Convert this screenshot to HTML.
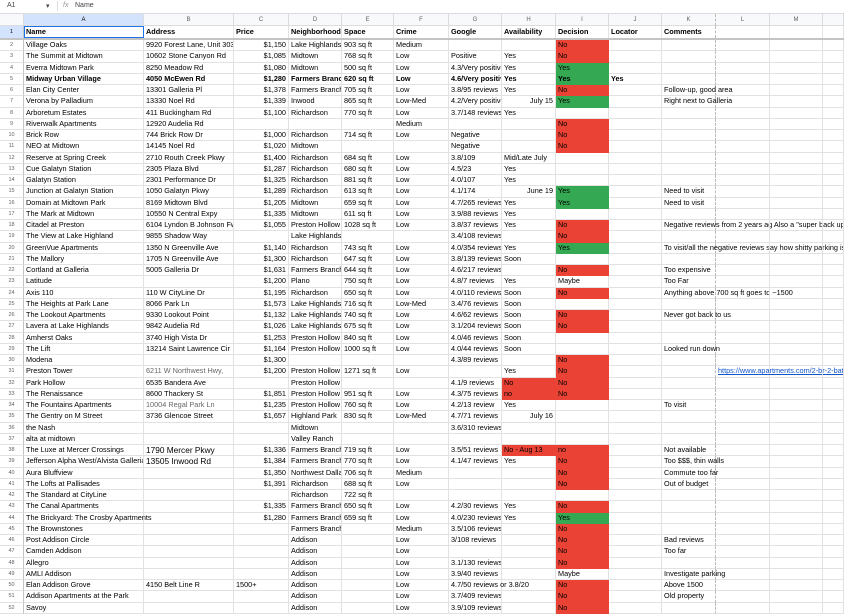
<!DOCTYPE html>
<html><head><meta charset="utf-8">
<style>
*{box-sizing:border-box;margin:0;padding:0}
body{width:844px;height:609px;overflow:hidden;background:#fff;font-family:"Liberation Sans",Arial,sans-serif;color:#000;position:relative}
.top{position:absolute;left:0;top:0;width:844px;height:13px;font-size:7px;color:#444}
.top span{position:absolute;top:2px}
.ch{position:absolute;top:13px;left:0;display:flex;height:13px;width:844px;background:#f8f9fa;border-top:1px solid #dadce0}
.ch div{border-right:1px solid #dadce0;border-bottom:1px solid #dadce0;text-align:center;font-size:6px;color:#5f6368;line-height:12px}
.ch div.sel{background:#d3e3fd;color:#000}
.g{position:absolute;top:26px;left:0;width:844px}
.r{display:flex;height:11.25px}
.r.h1{height:14px;border-bottom:2px solid #c4c4c4}
.r>div{border-right:1px solid #e2e2e2;border-bottom:1px solid #e2e2e2;padding:0 2px;font-size:7.3px;line-height:10.5px;white-space:nowrap;overflow:hidden}
.r.h1>div{line-height:12px;font-weight:bold;border-bottom:none}
.r>div:first-child{text-align:center;font-size:5.5px;color:#5f6368;background:#fff;border-right:1px solid #c4c4c4;font-weight:normal}
.r.h1>div:first-child{background:#d3e3fd;color:#000}
.w0{width:24px;flex:none}
.r>div:nth-child(1),.ch>div:nth-child(1){width:24px;flex:none}
.r>div:nth-child(2),.ch>div:nth-child(2){width:120px;flex:none}
.r>div:nth-child(3),.ch>div:nth-child(3){width:90px;flex:none}
.r>div:nth-child(4),.ch>div:nth-child(4){width:55px;flex:none;text-align:right}
.ch>div:nth-child(4){text-align:center}
.r>div:nth-child(5),.ch>div:nth-child(5){width:53px;flex:none}
.r>div:nth-child(6),.ch>div:nth-child(6){width:52px;flex:none}
.r>div:nth-child(7),.ch>div:nth-child(7){width:55px;flex:none}
.r>div:nth-child(8),.ch>div:nth-child(8){width:53px;flex:none}
.r>div:nth-child(9),.ch>div:nth-child(9){width:54px;flex:none}
.r>div:nth-child(10),.ch>div:nth-child(10){width:53px;flex:none}
.r>div:nth-child(11),.ch>div:nth-child(11){width:53px;flex:none}
.r>div:nth-child(12),.ch>div:nth-child(12){width:54px;flex:none;border-right:1px dashed #bbb}
.r>div:nth-child(13),.ch>div:nth-child(13){width:54px;flex:none}
.r>div:nth-child(14),.ch>div:nth-child(14){width:53px;flex:none}
.r>div:nth-child(15),.ch>div:nth-child(15){width:21px;flex:none}
.r>div.o{overflow:visible}
.r>div.R{background:#ea4335;border-color:#ea4335}
.r>div.G{background:#34a853;border-color:#34a853}
.r>div.ra{text-align:right}
.r>div.la{text-align:left}
.b>div{font-weight:bold}
.gr{color:#666}
.big{font-size:8.3px!important}
.lnk{color:#1155cc;text-decoration:underline}
</style></head><body>
<div class="top"><span style="left:7px">A1</span><span style="left:46px">▾</span><span style="left:57px;top:1px;height:10px;border-left:1px solid #ddd"></span><span style="left:63px;color:#999;font-style:italic">fx</span><span style="left:75px">Name</span></div>
<div class="ch"><div></div><div class="sel">A</div><div>B</div><div>C</div><div>D</div><div>E</div><div>F</div><div>G</div><div>H</div><div>I</div><div>J</div><div>K</div><div>L</div><div>M</div><div></div></div>
<div class="g">
<div class="r h1"><div>1</div><div style="outline:1.5px solid #1a73e8;outline-offset:-1.5px">Name</div><div>Address</div><div class="la">Price</div><div>Neighborhood</div><div>Space</div><div>Crime</div><div>Google</div><div>Availability</div><div>Decision</div><div>Locator</div><div>Comments</div><div></div><div></div><div></div></div>
<div class="r"><div>2</div><div>Village Oaks</div><div>9920 Forest Lane, Unit 303</div><div>$1,150</div><div>Lake Highlands</div><div>903 sq ft</div><div>Medium</div><div></div><div></div><div class="R">No</div><div></div><div></div><div></div><div></div><div></div></div>
<div class="r"><div>3</div><div>The Summit at Midtown</div><div>10602 Stone Canyon Rd</div><div>$1,085</div><div>Midtown</div><div>768 sq ft</div><div>Low</div><div>Positive</div><div>Yes</div><div class="R">No</div><div></div><div></div><div></div><div></div><div></div></div>
<div class="r"><div>4</div><div>Everra Midtown Park</div><div>8250 Meadow Rd</div><div>$1,080</div><div>Midtown</div><div>500 sq ft</div><div>Low</div><div>4.3/Very positive</div><div>Yes</div><div class="G">Yes</div><div></div><div></div><div></div><div></div><div></div></div>
<div class="r b"><div>5</div><div>Midway Urban Village</div><div>4050 McEwen Rd</div><div>$1,280</div><div>Farmers Branch</div><div>620 sq ft</div><div>Low</div><div>4.6/Very positive</div><div>Yes</div><div class="G">Yes</div><div>Yes</div><div></div><div></div><div></div><div></div></div>
<div class="r"><div>6</div><div>Elan City Center</div><div>13301 Galleria Pl</div><div>$1,378</div><div>Farmers Branch</div><div>705 sq ft</div><div>Low</div><div>3.8/95 reviews</div><div>Yes</div><div class="R">No</div><div></div><div class="o">Follow-up, good area</div><div></div><div></div><div></div></div>
<div class="r"><div>7</div><div>Verona by Palladium</div><div>13330 Noel Rd</div><div>$1,339</div><div>Inwood</div><div>865 sq ft</div><div>Low-Med</div><div>4.2/Very positive</div><div class="ra">July 15</div><div class="G">Yes</div><div></div><div class="o">Right next to Galleria</div><div></div><div></div><div></div></div>
<div class="r"><div>8</div><div>Arboretum Estates</div><div>411 Buckingham Rd</div><div>$1,100</div><div>Richardson</div><div>770 sq ft</div><div>Low</div><div>3.7/148 reviews</div><div>Yes</div><div></div><div></div><div></div><div></div><div></div><div></div></div>
<div class="r"><div>9</div><div>Riverwalk Apartments</div><div>12920 Audelia Rd</div><div></div><div></div><div></div><div>Medium</div><div></div><div></div><div class="R">No</div><div></div><div></div><div></div><div></div><div></div></div>
<div class="r"><div>10</div><div>Brick Row</div><div>744 Brick Row Dr</div><div>$1,000</div><div>Richardson</div><div>714 sq ft</div><div>Low</div><div>Negative</div><div></div><div class="R">No</div><div></div><div></div><div></div><div></div><div></div></div>
<div class="r"><div>11</div><div>NEO at Midtown</div><div>14145 Noel Rd</div><div>$1,020</div><div>Midtown</div><div></div><div></div><div>Negative</div><div></div><div class="R">No</div><div></div><div></div><div></div><div></div><div></div></div>
<div class="r"><div>12</div><div>Reserve at Spring Creek</div><div>2710 Routh Creek Pkwy</div><div>$1,400</div><div>Richardson</div><div>684 sq ft</div><div>Low</div><div>3.8/109</div><div>Mid/Late July</div><div></div><div></div><div></div><div></div><div></div><div></div></div>
<div class="r"><div>13</div><div>Cue Galatyn Station</div><div>2305 Plaza Blvd</div><div>$1,287</div><div>Richardson</div><div>680 sq ft</div><div>Low</div><div>4.5/23</div><div>Yes</div><div></div><div></div><div></div><div></div><div></div><div></div></div>
<div class="r"><div>14</div><div>Galatyn Station</div><div>2301 Performance Dr</div><div>$1,325</div><div>Richardson</div><div>881 sq ft</div><div>Low</div><div>4.0/107</div><div>Yes</div><div></div><div></div><div></div><div></div><div></div><div></div></div>
<div class="r"><div>15</div><div>Junction at Galatyn Station</div><div>1050 Galatyn Pkwy</div><div>$1,289</div><div>Richardson</div><div>613 sq ft</div><div>Low</div><div>4.1/174</div><div class="ra">June 19</div><div class="G">Yes</div><div></div><div class="o">Need to visit</div><div></div><div></div><div></div></div>
<div class="r"><div>16</div><div>Domain at Midtown Park</div><div>8169 Midtown Blvd</div><div>$1,205</div><div>Midtown</div><div>659 sq ft</div><div>Low</div><div>4.7/265 reviews</div><div>Yes</div><div class="G">Yes</div><div></div><div class="o">Need to visit</div><div></div><div></div><div></div></div>
<div class="r"><div>17</div><div>The Mark at Midtown</div><div>10550 N Central Expy</div><div>$1,335</div><div>Midtown</div><div>611 sq ft</div><div>Low</div><div>3.9/88 reviews</div><div>Yes</div><div></div><div></div><div></div><div></div><div></div><div></div></div>
<div class="r"><div>18</div><div>Citadel at Preston</div><div>6104 Lyndon B Johnson Fwy</div><div>$1,055</div><div>Preston Hollow</div><div>1028 sq ft</div><div>Low</div><div>3.8/37 reviews</div><div>Yes</div><div class="R">No</div><div></div><div class="o">Negative reviews from 2 years ag Also a "super back up"</div><div></div><div></div><div></div></div>
<div class="r"><div>19</div><div>The View at Lake Highland</div><div>9855 Shadow Way</div><div></div><div>Lake Highlands</div><div></div><div></div><div>3.4/108 reviews</div><div></div><div class="R">No</div><div></div><div></div><div></div><div></div><div></div></div>
<div class="r"><div>20</div><div>GreenVue Apartments</div><div>1350 N Greenville Ave</div><div>$1,140</div><div>Richardson</div><div>743 sq ft</div><div>Low</div><div>4.0/354 reviews</div><div>Yes</div><div class="G">Yes</div><div></div><div class="o">To visit/all the negative reviews say how shitty parking is a</div><div></div><div></div><div></div></div>
<div class="r"><div>21</div><div>The Mallory</div><div>1705 N Greenville Ave</div><div>$1,300</div><div>Richardson</div><div>647 sq ft</div><div>Low</div><div>3.8/139 reviews</div><div>Soon</div><div></div><div></div><div></div><div></div><div></div><div></div></div>
<div class="r"><div>22</div><div>Cortland at Galleria</div><div>5005 Galleria Dr</div><div>$1,631</div><div>Farmers Branch</div><div>644 sq ft</div><div>Low</div><div>4.6/217 reviews</div><div></div><div class="R">No</div><div></div><div class="o">Too expensive</div><div></div><div></div><div></div></div>
<div class="r"><div>23</div><div>Latitude</div><div></div><div>$1,200</div><div>Plano</div><div>750 sq ft</div><div>Low</div><div>4.8/7 reviews</div><div>Yes</div><div>Maybe</div><div></div><div>Too Far</div><div></div><div></div><div></div></div>
<div class="r"><div>24</div><div>Axis 110</div><div>110 W CityLine Dr</div><div>$1,195</div><div>Richardson</div><div>650 sq ft</div><div>Low</div><div>4.0/110 reviews</div><div>Soon</div><div class="R">No</div><div></div><div class="o">Anything above 700 sq ft goes to ~1500</div><div></div><div></div><div></div></div>
<div class="r"><div>25</div><div>The Heights at Park Lane</div><div>8066 Park Ln</div><div>$1,573</div><div>Lake Highlands</div><div>716 sq ft</div><div>Low-Med</div><div>3.4/76 reviews</div><div>Soon</div><div></div><div></div><div></div><div></div><div></div><div></div></div>
<div class="r"><div>26</div><div>The Lookout Apartments</div><div>9330 Lookout Point</div><div>$1,132</div><div>Lake Highlands</div><div>740 sq ft</div><div>Low</div><div>4.6/62 reviews</div><div>Soon</div><div class="R">No</div><div></div><div class="o">Never got back to us</div><div></div><div></div><div></div></div>
<div class="r"><div>27</div><div>Lavera at Lake Highlands</div><div>9842 Audelia Rd</div><div>$1,026</div><div>Lake Highlands</div><div>675 sq ft</div><div>Low</div><div>3.1/204 reviews</div><div>Soon</div><div class="R">No</div><div></div><div></div><div></div><div></div><div></div></div>
<div class="r"><div>28</div><div>Amherst Oaks</div><div>3740 High Vista Dr</div><div>$1,253</div><div>Preston Hollow</div><div>840 sq ft</div><div>Low</div><div>4.0/46 reviews</div><div>Soon</div><div></div><div></div><div></div><div></div><div></div><div></div></div>
<div class="r"><div>29</div><div>The Lift</div><div>13214 Saint Lawrence Cir</div><div>$1,164</div><div>Preston Hollow</div><div>1000 sq ft</div><div>Low</div><div>4.0/44 reviews</div><div>Soon</div><div></div><div></div><div class="o">Looked run down</div><div></div><div></div><div></div></div>
<div class="r"><div>30</div><div>Modena</div><div></div><div>$1,300</div><div></div><div></div><div></div><div>4.3/89 reviews</div><div></div><div class="R">No</div><div></div><div></div><div></div><div></div><div></div></div>
<div class="r"><div>31</div><div>Preston Tower</div><div class="gr">6211 W Northwest Hwy,</div><div>$1,200</div><div>Preston Hollow</div><div>1271 sq ft</div><div>Low</div><div></div><div>Yes</div><div class="R">No</div><div></div><div></div><div class="o lnk">https://www.apartments.com/2-br-2-bath</div><div></div><div></div></div>
<div class="r"><div>32</div><div>Park Hollow</div><div>6535 Bandera Ave</div><div></div><div>Preston Hollow</div><div></div><div></div><div>4.1/9 reviews</div><div class="R">No</div><div class="R">No</div><div></div><div></div><div></div><div></div><div></div></div>
<div class="r"><div>33</div><div>The Renaissance</div><div>8600 Thackery St</div><div>$1,851</div><div>Preston Hollow</div><div>951 sq ft</div><div>Low</div><div>4.3/75 reviews</div><div class="R">no</div><div class="R">No</div><div></div><div></div><div></div><div></div><div></div></div>
<div class="r"><div>34</div><div>The Fountains Apartments</div><div class="gr">10004 Regal Park Ln</div><div>$1,235</div><div>Preston Hollow</div><div>760 sq ft</div><div>Low</div><div>4.2/13 review</div><div>Yes</div><div></div><div></div><div>To visit</div><div></div><div></div><div></div></div>
<div class="r"><div>35</div><div>The Gentry on M Street</div><div>3736 Glencoe Street</div><div>$1,657</div><div>Highland Park</div><div>830 sq ft</div><div>Low-Med</div><div>4.7/71 reviews</div><div class="ra o">July 16</div><div></div><div></div><div></div><div></div><div></div><div></div></div>
<div class="r"><div>36</div><div>the Nash</div><div></div><div></div><div>Midtown</div><div></div><div></div><div>3.6/310 reviews</div><div></div><div></div><div></div><div></div><div></div><div></div><div></div></div>
<div class="r"><div>37</div><div>alta at midtown</div><div></div><div></div><div>Valley Ranch</div><div></div><div></div><div></div><div></div><div></div><div></div><div></div><div></div><div></div><div></div></div>
<div class="r"><div>38</div><div>The Luxe at Mercer Crossings</div><div class="big">1790 Mercer Pkwy</div><div>$1,336</div><div>Farmers Branch</div><div>719 sq ft</div><div>Low</div><div>3.5/51 reviews</div><div class="R">No - Aug 13</div><div class="R">no</div><div></div><div>Not available</div><div></div><div></div><div></div></div>
<div class="r"><div>39</div><div>Jefferson Alpha West/Alvista Galleria</div><div class="big">13505 Inwood Rd</div><div>$1,384</div><div>Farmers Branch</div><div>770 sq ft</div><div>Low</div><div>4.1/47 reviews</div><div>Yes</div><div class="R">No</div><div></div><div class="o">Too $$$, thin walls</div><div></div><div></div><div></div></div>
<div class="r"><div>40</div><div>Aura Bluffview</div><div></div><div>$1,350</div><div>Northwest Dallas</div><div>706 sq ft</div><div>Medium</div><div></div><div></div><div class="R">No</div><div></div><div class="o">Commute too far</div><div></div><div></div><div></div></div>
<div class="r"><div>41</div><div>The Lofts at Pallisades</div><div></div><div>$1,391</div><div>Richardson</div><div>688 sq ft</div><div>Low</div><div></div><div></div><div class="R">No</div><div></div><div>Out of budget</div><div></div><div></div><div></div></div>
<div class="r"><div>42</div><div>The Standard at CityLine</div><div></div><div></div><div>Richardson</div><div>722 sq ft</div><div></div><div></div><div></div><div></div><div></div><div></div><div></div><div></div><div></div></div>
<div class="r"><div>43</div><div>The Canal Apartments</div><div></div><div>$1,335</div><div>Farmers Branch</div><div>650 sq ft</div><div>Low</div><div>4.2/30 reviews</div><div>Yes</div><div class="R">No</div><div></div><div></div><div></div><div></div><div></div></div>
<div class="r"><div>44</div><div class="o">The Brickyard: The Crosby Apartments</div><div></div><div>$1,280</div><div>Farmers Branch</div><div>659 sq ft</div><div>Low</div><div>4.0/230 reviews</div><div>Yes</div><div class="G">Yes</div><div></div><div></div><div></div><div></div><div></div></div>
<div class="r"><div>45</div><div>The Brownstones</div><div></div><div></div><div>Farmers Branch</div><div></div><div>Medium</div><div>3.5/106 reviews</div><div></div><div class="R">No</div><div></div><div></div><div></div><div></div><div></div></div>
<div class="r"><div>46</div><div>Post Addison Circle</div><div></div><div></div><div>Addison</div><div></div><div>Low</div><div>3/108 reviews</div><div></div><div class="R">No</div><div></div><div>Bad reviews</div><div></div><div></div><div></div></div>
<div class="r"><div>47</div><div>Camden Addison</div><div></div><div></div><div>Addison</div><div></div><div>Low</div><div></div><div></div><div class="R">No</div><div></div><div>Too far</div><div></div><div></div><div></div></div>
<div class="r"><div>48</div><div>Allegro</div><div></div><div></div><div>Addison</div><div></div><div>Low</div><div>3.1/130 reviews</div><div></div><div class="R">No</div><div></div><div></div><div></div><div></div><div></div></div>
<div class="r"><div>49</div><div>AMLI Addison</div><div></div><div></div><div>Addison</div><div></div><div>Low</div><div>3.9/40 reviews</div><div></div><div>Maybe</div><div></div><div class="o">Investigate parking</div><div></div><div></div><div></div></div>
<div class="r"><div>50</div><div>Elan Addison Grove</div><div>4150 Belt Line R</div><div class="la">1500+</div><div>Addison</div><div></div><div>Low</div><div class="o">4.7/50 reviews or 3.8/20</div><div></div><div class="R">No</div><div></div><div>Above 1500</div><div></div><div></div><div></div></div>
<div class="r"><div>51</div><div class="o">Addison Apartments at the Park</div><div></div><div></div><div>Addison</div><div></div><div>Low</div><div>3.7/409 reviews</div><div></div><div class="R">No</div><div></div><div>Old property</div><div></div><div></div><div></div></div>
<div class="r"><div>52</div><div>Savoy</div><div></div><div></div><div>Addison</div><div></div><div>Low</div><div>3.9/109 reviews</div><div></div><div class="R">No</div><div></div><div></div><div></div><div></div><div></div></div>
</div>
</body></html>
